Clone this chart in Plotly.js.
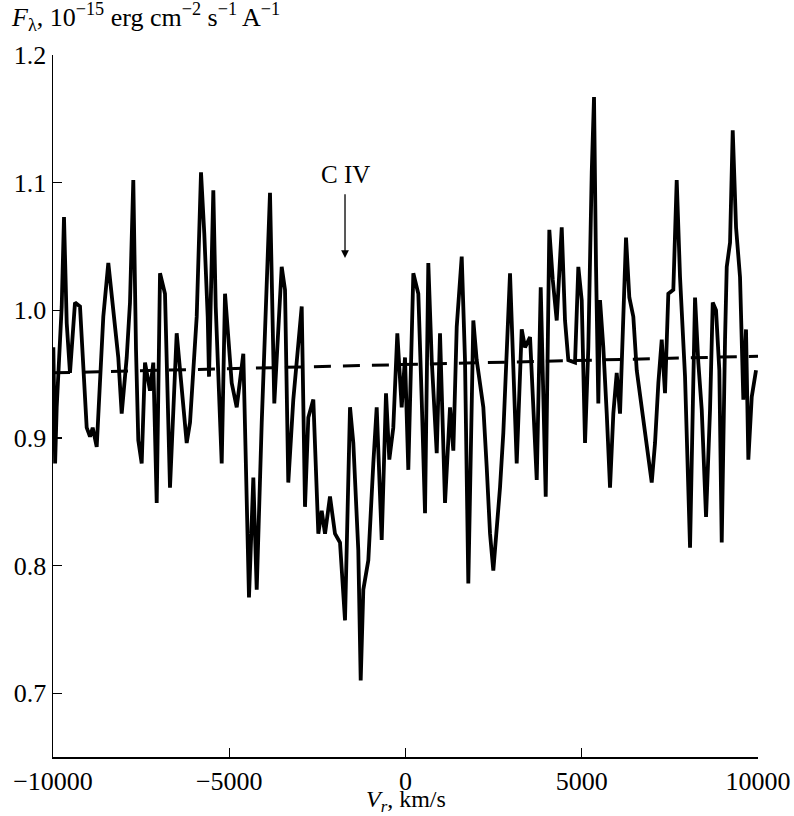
<!DOCTYPE html>
<html>
<head>
<meta charset="utf-8">
<script src="https://cdn.plot.ly/plotly-3.0.1.min.js"></script>
<style>html,body{margin:0;padding:0;background:#fff;}#chart{width:794px;height:816px;}</style>
</head>
<body>
<div id="chart"></div>
<script>
// Radial velocity, km/s
const velocity = [
 -9990,-9940,-9895,-9753,-9688,-9611,-9518,-9376,-9234,-9044,
 -8950,-8874,-8760,-8573,-8431,-8289,-8148,-8051,-7909,-7816,
 -7722,-7645,-7580,-7484,-7390,-7248,-7155,-7058,-6964,-6823,
 -6681,-6491,-6207,-6113,-5923,-5801,-5708,-5611,-5574,-5452,
 -5384,-5214,-5120,-4930,-4788,-4601,-4440,-4317,-4221,-4079,
 -3937,-3844,-3722,-3512,-3418,-3325,-3183,-2944,-2851,-2757,
 -2615,-2473,-2377,-2283,-2142,-2000,-1858,-1716,-1574,-1480,
 -1339,-1271,-1197,-1055,-913,-817,-675,-553,-459,-346,
 -232,-108,-14,80,222,364,460,554,647,744,
 886,979,1121,1263,1357,1453,1595,1688,1782,1924,
 2020,2208,2304,2398,2491,2588,2681,2775,2872,2965,
 3155,3297,3391,3533,3723,3836,3978,4080,4177,4290,
 4432,4525,4619,4809,4903,4999,5093,5187,5283,5348,
 5405,5470,5518,5612,5709,5802,5896,5992,6086,6180,
 6256,6350,6463,6560,6702,6843,6985,7079,7173,7269,
 7362,7456,7598,7694,7788,7930,8072,8149,8214,8307,
 8404,8526,8639,8716,8809,8903,8971,9065,9113,9207,
 9283,9377,9490,9584,9660,9726,9822,9944
];
// Flux, 1e-15 erg cm^-2 s^-1 A^-1
const flux = [
 0.971,0.880,0.924,1.003,1.073,0.990,0.951,1.006,1.003,0.908,
 0.901,0.908,0.893,0.995,1.037,1.000,0.963,0.919,0.963,1.006,
 1.102,0.969,0.898,0.880,0.959,0.937,0.959,0.849,1.029,1.013,
 0.861,0.982,0.896,0.912,0.995,1.108,1.060,0.995,0.948,1.094,
 1.003,0.880,1.013,0.943,0.924,0.966,0.775,0.869,0.781,0.912,
 1.016,1.092,0.927,1.034,1.016,0.865,0.930,1.003,0.846,0.916,
 0.930,0.825,0.843,0.825,0.854,0.825,0.818,0.757,0.924,0.896,
 0.812,0.710,0.781,0.804,0.880,0.924,0.820,0.935,0.883,0.908,
 0.982,0.924,0.963,0.875,1.029,1.013,0.930,0.841,1.037,0.961,
 0.888,0.982,0.849,0.924,0.890,0.987,1.042,0.961,0.786,0.992,
 0.961,0.924,0.877,0.825,0.796,0.830,0.861,0.904,0.961,1.029,
 0.880,0.985,0.971,0.979,0.867,1.018,0.854,1.063,1.024,0.992,
 1.065,0.992,0.961,0.959,1.034,1.008,0.896,0.971,1.108,1.167,
 1.034,0.927,1.008,0.971,0.919,0.861,0.919,0.951,0.919,0.995,
 1.057,1.010,0.995,0.953,0.922,0.896,0.865,0.896,0.943,0.977,
 0.935,1.013,1.016,1.102,1.026,0.948,0.814,0.922,1.010,0.959,
 0.922,0.838,0.922,1.006,1.000,0.953,0.818,0.977,1.034,1.053,
 1.141,1.065,1.026,0.930,0.985,0.883,0.932,0.953
];
// Continuum level
const contVelocity = [-10000, 10000];
const contFlux = [0.951, 0.964];
// Line marker
const lineLabel = "C IV";
const lineVelocity = -1716;
const xTicks = [-10000, -5000, 0, 5000, 10000];
const xTickText = ["\u221210000", "\u22125000", "0", "5000", "10000"];
const yTicks = [0.7, 0.8, 0.9, 1.0, 1.1, 1.2];
const yTickText = ["0.7", "0.8", "0.9", "1.0", "1.1", "1.2"];

const FONT = "Liberation Serif";

const traces = [
  {x: velocity, y: flux, type: "scatter", mode: "lines",
   line: {color: "#000", width: 3.8, shape: "linear"}, hoverinfo: "skip"},
  {x: contVelocity, y: contFlux, type: "scatter", mode: "lines",
   line: {color: "#000", width: 3, dash: "17px,12px"}, hoverinfo: "skip"}
];

const layout = {
  width: 794, height: 816,
  margin: {l: 53, r: 36, t: 55, b: 59},
  paper_bgcolor: "#fff", plot_bgcolor: "#fff",
  showlegend: false,
  font: {family: FONT, size: 26, color: "#000"},
  xaxis: {
    range: [-10000, 10000], tickvals: xTicks, ticktext: xTickText,
    ticks: "inside", ticklen: 9, tickwidth: 1.3, tickcolor: "#000",
    showline: true, linecolor: "#000", linewidth: 1.5,
    showgrid: false, zeroline: false,
    tickfont: {family: FONT, size: 26}
  },
  yaxis: {
    range: [0.65, 1.2], tickvals: yTicks, ticktext: yTickText,
    ticks: "inside", ticklen: 9, tickwidth: 1.3, tickcolor: "#000",
    showline: true, linecolor: "#000", linewidth: 1.5,
    showgrid: false, zeroline: false,
    tickfont: {family: FONT, size: 26}
  },
  annotations: [
    {xref: "paper", yref: "paper", x: -0.062, y: 1.026, xanchor: "left", yanchor: "bottom",
     text: "<i>F</i><sub>λ</sub>, 10<sup>−15</sup> erg cm<sup>−2</sup> s<sup>−1</sup> A<sup>−1</sup>",
     showarrow: false, font: {family: FONT, size: 26}},
    {xref: "paper", yref: "paper", x: 0.5, y: -0.062, xanchor: "center", yanchor: "middle",
     text: "<i>V<sub>r</sub></i>, km/s", showarrow: false, font: {family: FONT, size: 24}},
    {x: lineVelocity, y: 1.106, xref: "x", yref: "y", text: lineLabel, showarrow: false,
     font: {family: FONT, size: 25}, yanchor: "middle"},
    {x: lineVelocity, y: 1.041, xref: "x", yref: "y", axref: "x", ayref: "y",
     ax: lineVelocity, ay: 1.092, text: "", showarrow: true,
     arrowhead: 2, arrowsize: 1.2, arrowwidth: 1.3, arrowcolor: "#000"}
  ]
};

Plotly.newPlot("chart", traces, layout, {staticPlot: true, displayModeBar: false});
</script>
</body>
</html>
